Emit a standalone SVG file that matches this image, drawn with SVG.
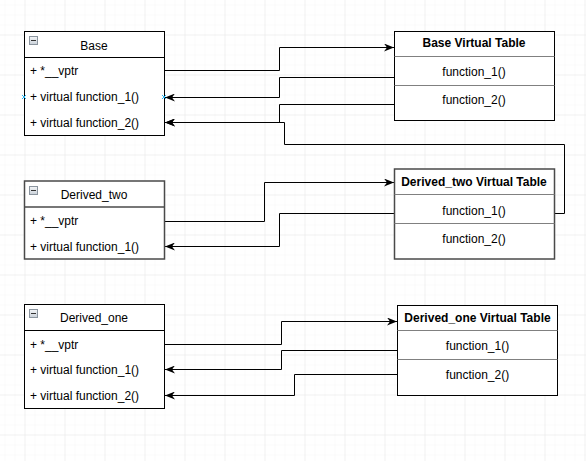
<svg xmlns="http://www.w3.org/2000/svg" width="586" height="461" viewBox="0 0 586 461">
<defs>
<pattern id="minor" x="4.5" y="4.5" width="10" height="10" patternUnits="userSpaceOnUse">
<path d="M0,0 H10 M0,0 V10" stroke="#f5f5f5" stroke-width="1" fill="none"/>
</pattern>
<pattern id="major" x="24.5" y="34.5" width="40" height="40" patternUnits="userSpaceOnUse">
<path d="M0,0 H40 M0,0 V40" stroke="#e8e8e8" stroke-width="1" fill="none"/>
</pattern>
<marker id="arr" viewBox="0 0 10 8" refX="10" refY="4" markerWidth="10" markerHeight="8" markerUnits="userSpaceOnUse" orient="auto">
<path d="M0,0 L10,4 L0,8 L3,4 Z" fill="#000"/>
</marker>
<linearGradient id="ig" x1="0" y1="0" x2="0" y2="1">
<stop offset="0" stop-color="#f4f6f8"/>
<stop offset="1" stop-color="#c9d0d8"/>
</linearGradient>
</defs>
<style>
.box{fill:#fff;stroke:#000;stroke-width:1}
.box2{fill:#fff;stroke:#4a4a4a;stroke-width:1.5}
.sep{stroke:#000;stroke-width:1}
.gsep{stroke:#808080;stroke-width:1}
text{font-family:"Liberation Sans",Arial,sans-serif;font-size:12px;fill:#000}
.t{text-anchor:middle}
.b{font-weight:bold;text-anchor:middle}
.c{fill:none;stroke:#000;stroke-width:1}
.icon{fill:url(#ig);stroke:#8a949e;stroke-width:1}
.x{stroke:#29b6f2;stroke-width:1;fill:none}
</style>
<rect width="586" height="461" fill="#fff"/>
<rect width="586" height="461" fill="url(#minor)"/>
<rect width="586" height="461" fill="url(#major)"/>

<g id="connectors">
<path class="c" d="M164,70.5 H279.5 V47.5 H394" marker-end="url(#arr)"/>
<path class="c" d="M394,77.5 H279.5 V97.5 H165" marker-end="url(#arr)"/>
<path class="c" d="M394,104.5 H279.5 V122.5 H165" marker-end="url(#arr)"/>
<path class="c" d="M554,213.5 H564.5 V144.5 H284.5 V122.5 H165" marker-end="url(#arr)"/>
<path class="c" d="M164,221.5 H264.5 V182.5 H394" marker-end="url(#arr)"/>
<path class="c" d="M394,213.5 H279.5 V246.5 H165" marker-end="url(#arr)"/>
<path class="c" d="M164,344.5 H281.5 V321.5 H397" marker-end="url(#arr)"/>
<path class="c" d="M397,350.5 H281.5 V369.5 H165" marker-end="url(#arr)"/>
<path class="c" d="M397,374.5 H294.5 V395.5 H165" marker-end="url(#arr)"/>
</g>

<g id="base">
<rect class="box" x="24.5" y="31.5" width="140" height="104"/>
<line class="sep" x1="24.5" y1="57.5" x2="164.5" y2="57.5"/>
<rect class="icon" x="29.5" y="36.5" width="8" height="8"/>
<line x1="31" y1="40.5" x2="36" y2="40.5" stroke="#333" stroke-width="1"/>
<text class="t" x="94" y="49.5">Base</text>
<text x="30" y="75">+ *__vptr</text>
<text x="30" y="101">+ virtual function_1()</text>
<text x="30" y="126.5">+ virtual function_2()</text>
<path class="x" d="M22,95 L26,99 M26,95 L22,99"/>
<path class="x" d="M162,95 L166,99 M166,95 L162,99"/>
</g>

<g id="base-vt">
<rect class="box" x="394.5" y="31.5" width="160" height="89"/>
<line class="gsep" x1="394.5" y1="56.5" x2="554.5" y2="56.5"/>
<line class="gsep" x1="394.5" y1="85.5" x2="554.5" y2="85.5"/>
<text class="b" x="474" y="47">Base Virtual Table</text>
<text class="t" x="474" y="76">function_1()</text>
<text class="t" x="474" y="104">function_2()</text>
</g>

<g id="derived-two">
<rect class="box2" x="24.5" y="181" width="140" height="78"/>
<line class="box2" x1="24.5" y1="207" x2="164.5" y2="207"/>
<rect class="icon" x="29.5" y="186.5" width="8" height="8"/>
<line x1="31" y1="190.5" x2="36" y2="190.5" stroke="#333" stroke-width="1"/>
<text class="t" x="94" y="198.5">Derived_two</text>
<text x="30" y="225">+ *__vptr</text>
<text x="30" y="251">+ virtual function_1()</text>
</g>

<g id="derived-two-vt">
<rect class="box2" x="394.5" y="169" width="160" height="90"/>
<line class="gsep" x1="394.5" y1="194.5" x2="554.5" y2="194.5"/>
<line class="gsep" x1="394.5" y1="223.5" x2="554.5" y2="223.5"/>
<text class="b" x="474" y="185.5">Derived_two Virtual Table</text>
<text class="t" x="474" y="215">function_1()</text>
<text class="t" x="474" y="242.5">function_2()</text>
</g>

<g id="derived-one">
<rect class="box" x="24.5" y="304.5" width="140" height="104"/>
<line class="sep" x1="24.5" y1="330.5" x2="164.5" y2="330.5"/>
<rect class="icon" x="29.5" y="309.5" width="8" height="8"/>
<line x1="31" y1="313.5" x2="36" y2="313.5" stroke="#333" stroke-width="1"/>
<text class="t" x="94" y="322">Derived_one</text>
<text x="30" y="348.5">+ *__vptr</text>
<text x="30" y="373.5">+ virtual function_1()</text>
<text x="30" y="399.5">+ virtual function_2()</text>
</g>

<g id="derived-one-vt">
<rect class="box" x="397.5" y="305.5" width="160" height="90"/>
<line class="gsep" x1="397.5" y1="330.5" x2="557.5" y2="330.5"/>
<line class="gsep" x1="397.5" y1="359.5" x2="557.5" y2="359.5"/>
<text class="b" x="477.5" y="321.5">Derived_one Virtual Table</text>
<text class="t" x="477.5" y="350">function_1()</text>
<text class="t" x="477.5" y="378.5">function_2()</text>
</g>
</svg>
